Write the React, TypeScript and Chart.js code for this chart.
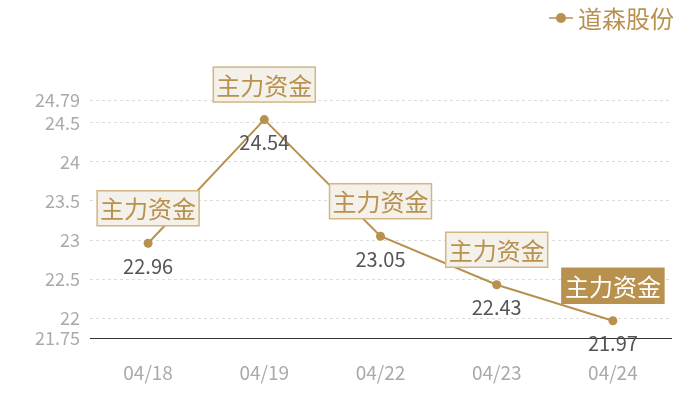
import { useEffect, useRef } from 'react';
import { Chart, ChartConfiguration, registerables } from 'chart.js';

Chart.register(...registerables);

const dates = ['04/18', '04/19', '04/22', '04/23', '04/24'];
const prices = [22.96, 24.54, 23.05, 22.43, 21.97];
const yTicks = [21.75, 22, 22.5, 23, 23.5, 24, 24.5, 24.79];
const seriesName = '道森股份';
const tagText = '主力资金';
const highlightIndex = 4;

const GOLD = '#b8914f';
const FONT = '"Noto Sans CJK SC", "Noto Sans", sans-serif';

// draws the value labels, the "主力资金" tags and the legend
const labelPlugin = {
  id: 'labels',
  afterDatasetsDraw(chart: Chart) {
    const ctx = chart.ctx;
    const meta = chart.getDatasetMeta(0);
    ctx.save();
    meta.data.forEach((pt: any, i: number) => {
      const { x, y } = pt.getProps(['x', 'y'], true);
      // value under the point
      ctx.font = `20px ${FONT}`;
      ctx.fillStyle = '#555';
      ctx.textAlign = 'center';
      ctx.textBaseline = 'middle';
      ctx.fillText(String(prices[i]), x, y + 23);

      // tag above the point
      ctx.font = `24px ${FONT}`;
      const w = ctx.measureText(tagText).width + 6;
      const h = 35;
      const cy = y - 35;
      const hl = i === highlightIndex;
      ctx.fillStyle = hl ? GOLD : '#f4f0ea';
      ctx.fillRect(x - w / 2, cy - h / 2, w, h);
      ctx.strokeStyle = hl ? GOLD : '#d2b684';
      ctx.lineWidth = 1.5;
      ctx.strokeRect(x - w / 2, cy - h / 2, w, h);
      ctx.fillStyle = hl ? '#fff' : GOLD;
      ctx.fillText(tagText, x, cy + 1);
    });

    // legend
    const ly = 18;
    ctx.strokeStyle = GOLD;
    ctx.lineWidth = 1.5;
    ctx.beginPath();
    ctx.moveTo(549, ly);
    ctx.lineTo(573, ly);
    ctx.stroke();
    ctx.fillStyle = GOLD;
    ctx.beginPath();
    ctx.arc(561, ly, 5, 0, Math.PI * 2);
    ctx.fill();
    ctx.font = `24px ${FONT}`;
    ctx.textAlign = 'left';
    ctx.textBaseline = 'middle';
    ctx.fillText(seriesName, 578, ly + 1);
    ctx.restore();
  },
};

export default function App() {
  const chartRef = useRef<HTMLCanvasElement>(null);
  const chartInstance = useRef<Chart | null>(null);

  useEffect(() => {
    if (!chartRef.current) return;
    if (chartInstance.current) chartInstance.current.destroy();

    const config: ChartConfiguration = {
      type: 'line',
      data: {
        labels: dates,
        datasets: [
          {
            label: seriesName,
            data: prices,
            borderColor: GOLD,
            backgroundColor: GOLD,
            borderWidth: 2,
            pointRadius: 4.5,
            pointBackgroundColor: GOLD,
            pointBorderWidth: 0,
            tension: 0,
          },
        ],
      },
      options: {
        responsive: false,
        animation: false,
        layout: { padding: { top: 100, right: 29, left: 0, bottom: 0 } },
        plugins: {
          legend: { display: false },
          tooltip: { enabled: false },
        },
        scales: {
          x: {
            offset: true,
            grid: { display: false },
            border: { display: true, color: '#333', width: 1 },
            ticks: {
              color: '#aaa',
              font: { family: FONT, size: 19 },
              padding: 15,
            },
            afterFit: (scale: any) => {
              scale.height = 62;
            },
          },
          y: {
            min: 21.75,
            max: 24.79,
            afterBuildTicks: (axis: any) => {
              axis.ticks = yTicks.map(v => ({ value: v }));
            },
            afterFit: (scale: any) => {
              scale.width = 90;
            },
            grid: { color: '#dcdcdc', drawTicks: false },
            border: { display: false, dash: [3, 3] },
            ticks: {
              color: '#aaa',
              font: { family: FONT, size: 18 },
              padding: 10,
              callback: (v: any) => String(v),
            },
          },
        },
      },
      plugins: [labelPlugin],
    };

    chartInstance.current = new Chart(chartRef.current, config);
    return () => {
      if (chartInstance.current) chartInstance.current.destroy();
    };
  }, []);

  return (
    <div style={{ position: 'fixed', left: 0, top: 0, width: 700, height: 400, background: '#fff' }}>
      <canvas ref={chartRef} width={700} height={400}></canvas>
    </div>
  );
}
